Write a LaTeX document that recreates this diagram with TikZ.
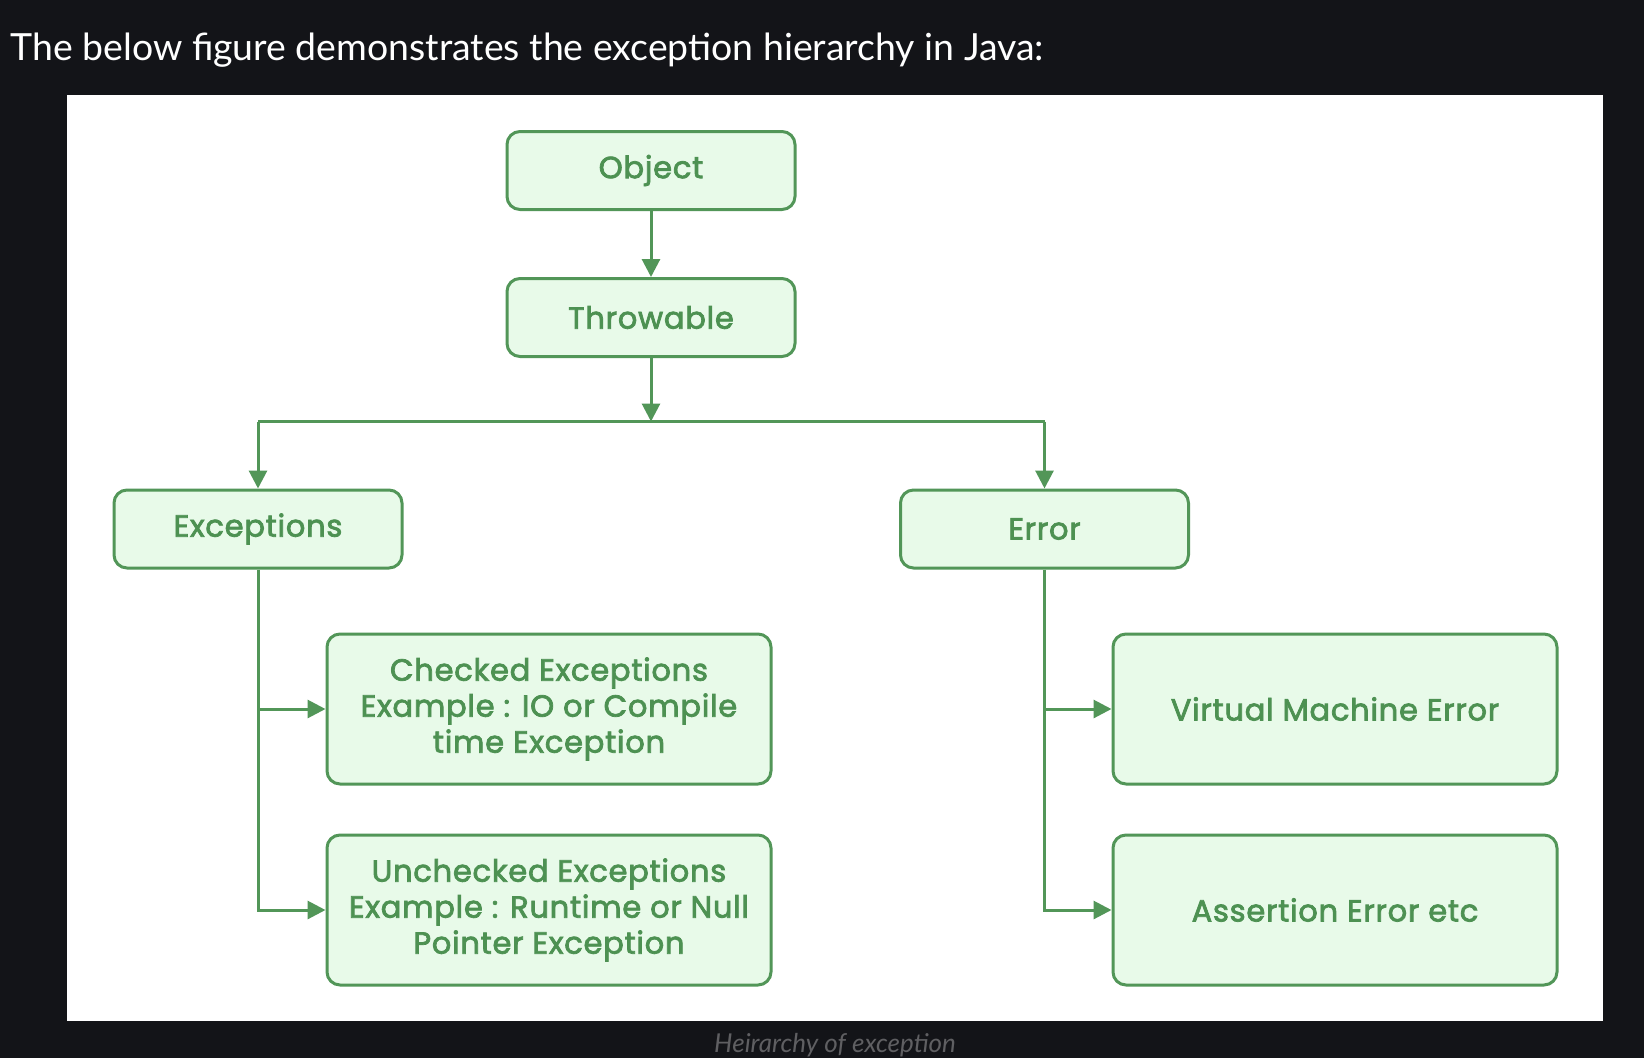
\documentclass[tikz,border=0pt]{standalone}
\usepackage{fontspec}
\setmainfont{Lato}
\newfontfamily\boxfont{Poppins}[FakeBold=2.5,LetterSpace=2.5]
\newfontfamily\titlefont{Lato}
\usetikzlibrary{arrows.meta,positioning}
\definecolor{darkbg}{RGB}{19,20,24}
\definecolor{gstroke}{RGB}{82,150,88}
\definecolor{gtext}{RGB}{77,145,82}
\definecolor{gfill}{RGB}{232,250,233}
\definecolor{capgrey}{RGB}{95,95,98}
\begin{document}
\begin{tikzpicture}[x=1pt,y=-1pt,
  gbox/.style={draw=gstroke, fill=gfill, line width=3pt, rounded corners=13pt,
    inner sep=0pt, align=center, text=gtext,
    font=\boxfont\fontsize{30.5}{36}\selectfont},
  smallbox/.style={gbox, minimum width=288pt, minimum height=78pt},
  bigbox/.style={gbox, minimum width=444pt, minimum height=150pt},
  conn/.style={draw=gstroke, line width=3pt},
  arr/.style={conn, -{Triangle[length=18pt,width=18pt]}}
]
\useasboundingbox (0,0) rectangle (1644,1058);
\fill[darkbg] (0,0) rectangle (1644,1058);
\fill[white] (67,95) rectangle (1603,1021);

\node[anchor=base west, text=white, inner sep=0pt, font=\titlefont\fontsize{37.4}{44}\selectfont]
  (title) at (10.5,60) {The below figure demonstrates the exception hierarchy in Java:};
\node[anchor=base, text=capgrey, inner sep=0pt, font=\titlefont\itshape\fontsize{26}{30}\selectfont]
  (caption) at (835,1052.5) {Heirarchy of exception};

\node[smallbox] (obj) at (651,170.5) {Object};
\node[smallbox] (thr) at (651,317.5) {Throwable};
\node[smallbox] (exc) at (258,529) {Exceptions};
\node[smallbox] (err) at (1044.5,529) {Error};
\node[bigbox] (chk) at (549,709) {Checked Exceptions\\Example : IO or Compile\\time Exception};
\node[bigbox] (unc) at (549,910) {Unchecked Exceptions\\Example : Runtime or Null\\Pointer Exception};
\node[bigbox] (vme) at (1335,709) {Virtual Machine Error};
\node[bigbox] (ase) at (1335,910) {Assertion Error etc};

\coordinate (jc) at (651,421.5);
\coordinate (jl) at (exc.north |- jc);
\coordinate (jr) at (err.north |- jc);

\draw[arr] (obj.south) -- (thr.north);
\draw[arr] (thr.south) -- (jc);
\draw[conn] (jl) -- (jr);
\draw[arr] (jl) -- (exc.north);
\draw[arr] (jr) -- (err.north);

\draw[arr] (exc.south) |- (unc.west);
\draw[arr] (exc.south |- chk.west) -- (chk.west);
\draw[arr] (err.south) |- (ase.west);
\draw[arr] (err.south |- vme.west) -- (vme.west);
\end{tikzpicture}
\end{document}
